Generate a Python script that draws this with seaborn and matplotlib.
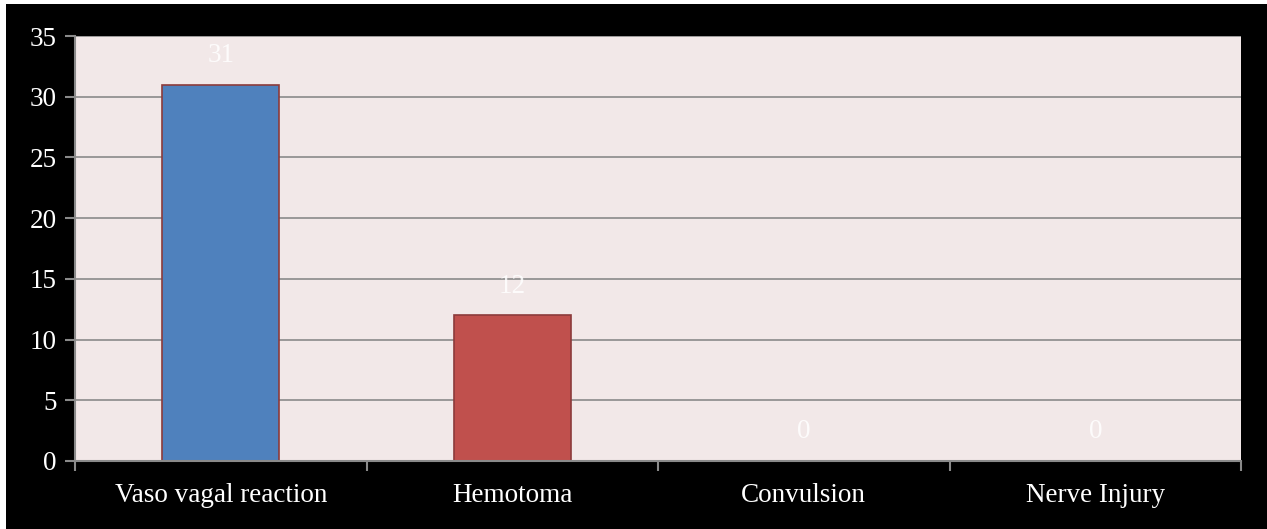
import matplotlib
matplotlib.use("Agg")
import matplotlib.pyplot as plt
import seaborn as sns
import pandas as pd
from matplotlib.patches import Rectangle

# chart data
categories = ["Vaso vagal reaction", "Hemotoma", "Convulsion", "Nerve Injury"]
counts = [31, 12, 0, 0]
bar_colors = ["#4F81BD", "#C0504D", "#9BBB59", "#8064A2"]

df = pd.DataFrame({"Reaction": categories, "Count": counts})

sns.set_theme(style="white")
plt.rcParams["font.family"] = ["Liberation Serif", "DejaVu Serif"]

fig = plt.figure(figsize=(12.67, 5.29), dpi=100, facecolor="white")
# black canvas with a thin white margin at top/left
fig.patches.append(Rectangle((6 / 1267, 0), 1 - 6 / 1267, 1 - 4 / 529,
                             transform=fig.transFigure, facecolor="black",
                             edgecolor="none", zorder=-10))

ax = fig.add_axes([75 / 1267, (529 - 461) / 529, (1241 - 75) / 1267, (461 - 36) / 529])
ax.set_facecolor("#F2E8E8")

sns.barplot(data=df, x="Reaction", y="Count", hue="Reaction", palette=bar_colors,
            width=0.4, edgecolor="#8C3B3B", linewidth=1.2, legend=False,
            saturation=1, ax=ax)

ax.set_ylim(0, 35)
ax.set_xlim(-0.5, len(categories) - 0.5)
ax.set_yticks(range(0, 36, 5))
ax.yaxis.grid(True, color="#8A8A8A", linewidth=1.2)
ax.set_axisbelow(True)

# value labels
for i, v in enumerate(counts):
    ax.annotate(str(v), (i, v), xytext=(0, 21), textcoords="offset points",
                ha="center", va="center", color="#FFFFFF", fontsize=19.5, alpha=0.85)

for side in ["top", "right"]:
    ax.spines[side].set_visible(False)
for side in ["left", "bottom"]:
    ax.spines[side].set_color("#8A8A8A")
    ax.spines[side].set_linewidth(1.5)

# ticks between categories on x, labels centred
ax.set_xticks([i - 0.5 for i in range(len(categories) + 1)], minor=True)
ax.tick_params(axis="x", which="minor", length=7, width=1.5, color="#8A8A8A",
               direction="out", bottom=True)
ax.tick_params(axis="x", which="major", length=0, pad=16, labelsize=19.5,
               labelcolor="white")
ax.tick_params(axis="y", length=7, width=1.5, color="#8A8A8A", direction="out",
               left=True, pad=6, labelsize=19.5, labelcolor="white")

ax.set_xlabel("")
ax.set_ylabel("")

fig.savefig("out.png", dpi=100, facecolor=fig.get_facecolor())
